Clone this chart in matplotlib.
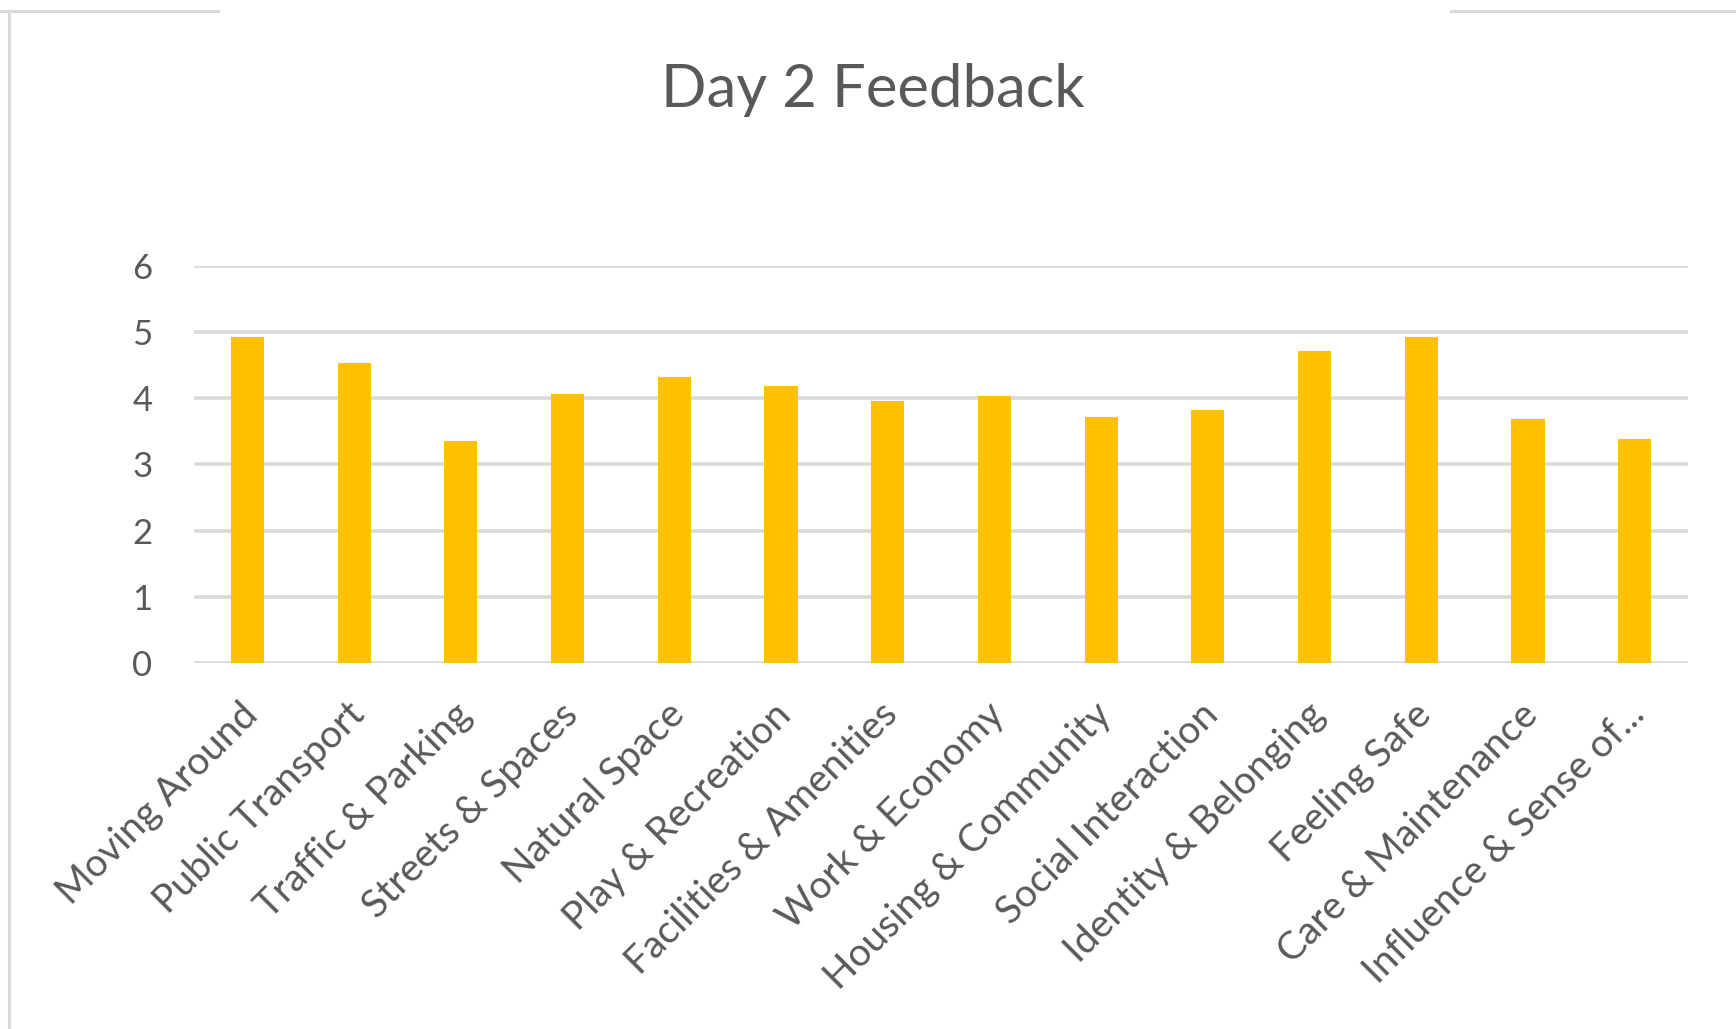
"""Day 2 Feedback: puntuación media por tema."""
import matplotlib
matplotlib.use("Agg")
import matplotlib.pyplot as plt
import matplotlib.transforms as mtransforms
from matplotlib.lines import Line2D

categorias = ["Moving Around", "Public Transport", "Traffic & Parking", "Streets & Spaces",
              "Natural Space", "Play & Recreation", "Facilities & Amenities", "Work & Economy",
              "Housing & Community", "Social Interaction", "Identity & Belonging", "Feeling Safe",
              "Care & Maintenance", "Influence & Sense of..."]
valores = [4.92, 4.53, 3.35, 4.06, 4.32, 4.18, 3.96, 4.03, 3.72, 3.82, 4.72, 4.93, 3.68, 3.39]
yticks = [0, 1, 2, 3, 4, 5, 6]

TINTA = "#595959"
GRIS = "#d9d9d9"
AMARILLO = "#FFC000"

plt.rcParams["font.family"] = ["Lato", "DejaVu Sans"]
fig = plt.figure(figsize=(17.36, 10.29), dpi=100)
fig.patch.set_facecolor("white")

ax = fig.add_axes([0.1118, 0.3557, 0.8606, 0.3858])
x = range(len(categorias))
ax.bar(x, valores, width=0.31, color=AMARILLO, zorder=3)
ax.set_xlim(-0.5, len(categorias) - 0.5)
ax.set_ylim(0, 6)
ax.set_yticks(yticks)
ax.set_yticklabels([str(v) for v in yticks])
ax.grid(axis="y", color=GRIS, linewidth=2.6, zorder=0)
ax.set_axisbelow(True)
for s in ax.spines.values():
    s.set_visible(False)
ax.tick_params(axis="y", length=0, pad=30, labelsize=25, labelcolor=TINTA)
ax.tick_params(axis="x", length=0, pad=24, labelsize=28, labelcolor=TINTA)
ax.set_xticks(list(x))
ax.set_xticklabels(categorias, rotation=45, ha="right", rotation_mode="anchor")
desplaza = mtransforms.ScaledTranslation(-6 / 72, 0, fig.dpi_scale_trans)
for t in ax.get_xticklabels():
    t.set_transform(t.get_transform() + desplaza)

fig.text(0.503, 0.913, "Day 2 Feedback", ha="center", va="center", fontsize=43, color=TINTA)

# marco gris de la diapositiva (con hueco arriba)
fig.add_artist(Line2D([0.0052, 0.0052], [0.0, 0.989], color=GRIS, linewidth=2.2))
fig.add_artist(Line2D([0.0, 0.1256], [0.989, 0.989], color=GRIS, linewidth=2.2))
fig.add_artist(Line2D([0.836, 1.0], [0.989, 0.989], color=GRIS, linewidth=2.2))

fig.savefig("out.png", facecolor="white")
